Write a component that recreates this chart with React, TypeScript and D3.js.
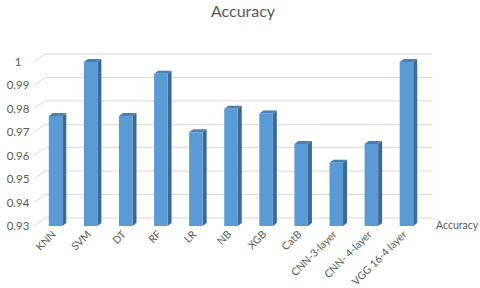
import React, { useRef, useEffect } from 'react';
import * as d3 from 'd3';

const categories = ['KNN', 'SVM', 'DT', 'RF', 'LR', 'NB', 'XGB', 'CatB', 'CNN-3-layer', 'CNN- 4-layer', 'VGG 16-4 layer'];
const accuracy = [0.977, 1.0, 0.977, 0.995, 0.970, 0.980, 0.978, 0.965, 0.957, 0.965, 1.0];
const yTicks = [0.93, 0.94, 0.95, 0.96, 0.97, 0.98, 0.99, 1];
const seriesName = 'Accuracy';
const title = 'Accuracy';

function drawChart(svgEl: SVGSVGElement) {
  const svg = d3.select(svgEl);
  svg.selectAll('*').remove();

  const width = 480;
  const height = 288;
  const font = 'Lato, "Open Sans", sans-serif';
  const textColor = '#595959';
  const gridColor = '#d9d9d9';

  // depth of the 3d walls and of the bars
  const wallDx = 11;
  const wallDy = -8;
  const barDx = 4;
  const barDy = -3;
  const barW = 13.5;

  const y = d3.scaleLinear().domain([0.93, 1]).range([226, 62]);
  const x = d3.scaleBand<string>().domain(categories).range([38, 424]).padding(0);

  svg.append('rect').attr('width', width).attr('height', height).attr('fill', '#fff');

  // title
  svg.append('text')
    .attr('x', 243)
    .attr('y', 17)
    .attr('text-anchor', 'middle')
    .attr('font-family', font)
    .attr('font-size', 16)
    .attr('fill', textColor)
    .text(title);

  // gridlines: diagonal on the side wall then along the back wall
  const grid = svg.append('g').attr('fill', 'none').attr('stroke', gridColor).attr('stroke-width', 1);
  grid.selectAll('path')
    .data(yTicks)
    .join('path')
    .attr('d', d => {
      const yy = y(d);
      return `M34,${yy} L${34 + wallDx},${yy + wallDy} L432,${yy + wallDy}`;
    });

  // y labels
  svg.append('g')
    .selectAll('text')
    .data(yTicks)
    .join('text')
    .attr('x', 18)
    .attr('y', d => y(d) + 4)
    .attr('text-anchor', 'middle')
    .attr('font-family', font)
    .attr('font-size', 11.5)
    .attr('fill', textColor)
    .text(d => (d === 1 ? '1' : d3.format('.2f')(d)));

  // bars
  const bars = svg.append('g')
    .selectAll('g')
    .data(categories.map((c, i) => ({ c, v: accuracy[i] })))
    .join('g');

  const bx = (d: { c: string }) => (x(d.c) as number) + x.bandwidth() / 2 - barW / 2;
  const y0 = y(0.93);

  // side face
  bars.append('path')
    .attr('fill', '#3a6a98')
    .attr('d', d => {
      const x1 = bx(d) + barW;
      const yt = y(d.v);
      return `M${x1},${y0} L${x1},${yt} L${x1 + barDx},${yt + barDy} L${x1 + barDx},${y0 + barDy} Z`;
    });
  // top face
  bars.append('path')
    .attr('fill', '#4a80b8')
    .attr('d', d => {
      const x0 = bx(d);
      const yt = y(d.v);
      return `M${x0},${yt} L${x0 + barDx},${yt + barDy} L${x0 + barW + barDx},${yt + barDy} L${x0 + barW},${yt} Z`;
    });
  // front face
  bars.append('rect')
    .attr('x', d => bx(d))
    .attr('y', d => y(d.v))
    .attr('width', barW)
    .attr('height', d => y0 - y(d.v))
    .attr('fill', '#5b9bd5');

  // x labels rotated
  svg.append('g')
    .selectAll('text')
    .data(categories)
    .join('text')
    .attr('transform', d => `translate(${(x(d) as number) + x.bandwidth() / 2 + 1},${235}) rotate(-45)`)
    .attr('text-anchor', 'end')
    .attr('font-family', font)
    .attr('font-size', 10.5)
    .attr('fill', textColor)
    .text(d => d);

  // legend
  svg.append('text')
    .attr('x', 436)
    .attr('y', 229)
    .attr('font-family', font)
    .attr('font-size', 10.5)
    .attr('fill', textColor)
    .text(seriesName);
}

export default function App() {
  const ref = useRef<SVGSVGElement>(null);

  useEffect(() => {
    if (ref.current) {
      drawChart(ref.current);
    }
  }, []);

  return (
    <svg
      ref={ref}
      width={480}
      height={288}
      style={{ position: 'absolute', left: 0, top: 0 }}
    />
  );
}
